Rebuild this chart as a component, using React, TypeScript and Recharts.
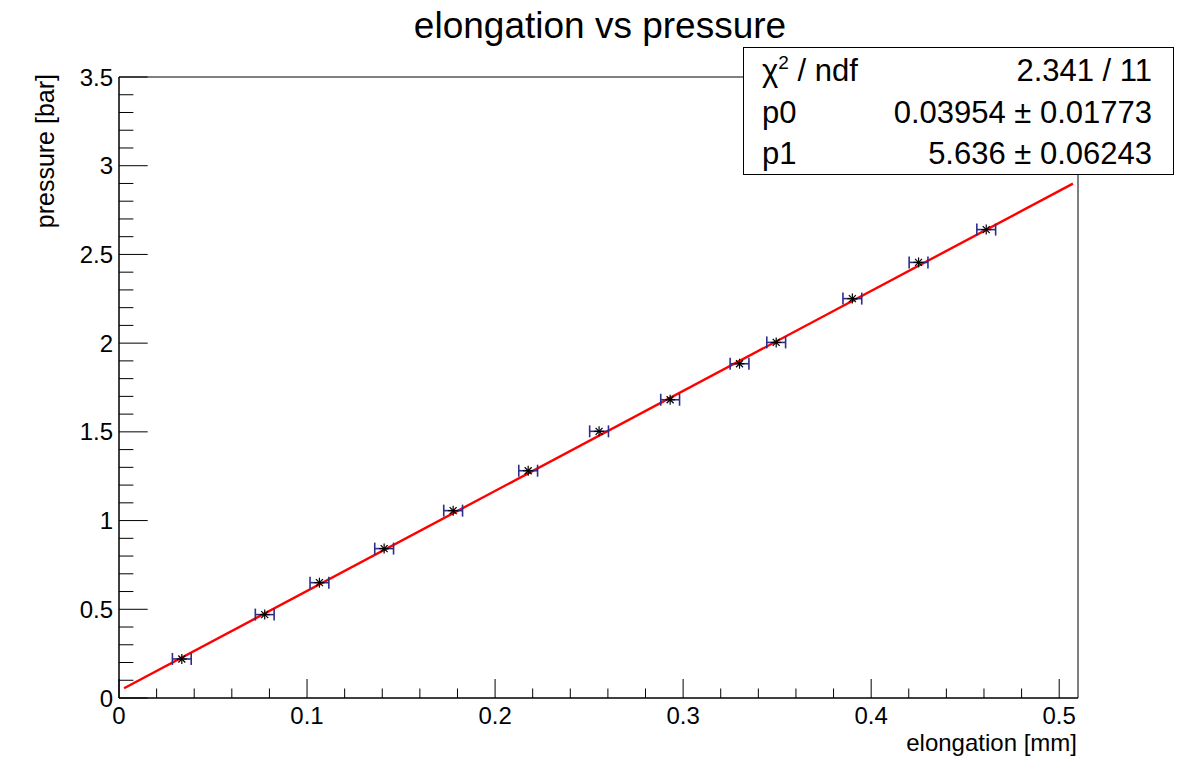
import { ComposedChart, Scatter, Line, XAxis, YAxis, ErrorBar, ReferenceArea } from 'recharts';

// measured points (elongation in mm, pressure in bar)
const elongation = [0.0334, 0.0775, 0.1066, 0.141, 0.1777, 0.2176, 0.2553, 0.2931, 0.33, 0.3495, 0.39, 0.4252, 0.4612];
const pressure = [0.22, 0.47, 0.65, 0.842, 1.056, 1.281, 1.503, 1.681, 1.884, 2.004, 2.251, 2.455, 2.64];
const elongationErr = [0.005, 0.005, 0.005, 0.005, 0.005, 0.005, 0.005, 0.005, 0.005, 0.005, 0.005, 0.005, 0.005];

// fitted line end points as drawn
const fitX = [0.0027, 0.5073];
const fitY = [0.055, 2.899];

const xTicks = [0, 0.02, 0.04, 0.06, 0.08, 0.1, 0.12, 0.14, 0.16, 0.18, 0.2, 0.22, 0.24, 0.26, 0.28, 0.3, 0.32, 0.34, 0.36, 0.38, 0.4, 0.42, 0.44, 0.46, 0.48, 0.5];
const xLabels = [0, 0.1, 0.2, 0.3, 0.4, 0.5];
const yTicks = [0, 0.1, 0.2, 0.3, 0.4, 0.5, 0.6, 0.7, 0.8, 0.9, 1, 1.1, 1.2, 1.3, 1.4, 1.5, 1.6, 1.7, 1.8, 1.9, 2, 2.1, 2.2, 2.3, 2.4, 2.5, 2.6, 2.7, 2.8, 2.9, 3, 3.1, 3.2, 3.3, 3.4, 3.5];
const yLabels = [0, 0.5, 1, 1.5, 2, 2.5, 3, 3.5];

const statNames = ['p0', 'p1'];
const statValues = ['0.03954 \u00b1 0.01773', '5.636 \u00b1 0.06243'];
const chiValue = '2.341 / 11';

const points = elongation.map((x, i) => ({ x, y: pressure[i], ex: elongationErr[i] }));
const fitData = fitX.map((x, i) => ({ x, y: fitY[i] }));

const FONT = '"Liberation Sans", Arial, Helvetica, sans-serif';

const isIn = (list: number[], v: number) => list.some(t => Math.abs(t - v) < 1e-9);

const XTick = (props: any) => {
  const { x, y, payload } = props;
  const major = isIn(xLabels, payload.value);
  return (
    <g>
      <line x1={x} x2={x} y1={y} y2={y - (major ? 19 : 9.5)} stroke="#000" strokeWidth={1} />
      {major && (
        <text x={x} y={y + 26} textAnchor="middle" fontSize={24} fill="#000">
          {String(payload.value)}
        </text>
      )}
    </g>
  );
};

const YTick = (props: any) => {
  const { x, y, payload } = props;
  const major = isIn(yLabels, payload.value);
  return (
    <g>
      <line x1={x} x2={x + (major ? 28.7 : 14.4)} y1={y} y2={y} stroke="#000" strokeWidth={1} />
      {major && (
        <text x={x - 6} y={y + 8.5} textAnchor="end" fontSize={24} fill="#000">
          {String(payload.value)}
        </text>
      )}
    </g>
  );
};

const Star = (props: any) => {
  const { cx, cy } = props;
  const r = 5;
  const d = 3.5;
  return (
    <g stroke="#000" strokeWidth={1.2}>
      <line x1={cx - r} x2={cx + r} y1={cy} y2={cy} />
      <line x1={cx} x2={cx} y1={cy - r} y2={cy + r} />
      <line x1={cx - d} x2={cx + d} y1={cy - d} y2={cy + d} />
      <line x1={cx - d} x2={cx + d} y1={cy + d} y2={cy - d} />
    </g>
  );
};

export default function App() {
  return (
    <div style={{ position: 'absolute', left: 0, top: 0, width: 1198, height: 776, background: '#fff', fontFamily: FONT }}>
      <ComposedChart width={1198} height={776} margin={{ top: 77, right: 120, bottom: 0, left: 0 }}>
        <XAxis
          type="number"
          dataKey="x"
          domain={[0, 0.51]}
          ticks={xTicks}
          interval={0}
          tickSize={0}
          tickMargin={0}
          tickLine={false}
          axisLine={{ stroke: '#000' }}
          tick={<XTick />}
          height={78}
          allowDataOverflow
        />
        <YAxis
          type="number"
          domain={[0, 3.5]}
          ticks={yTicks}
          interval={0}
          tickSize={0}
          tickMargin={0}
          tickLine={false}
          axisLine={{ stroke: '#000' }}
          tick={<YTick />}
          width={119}
          allowDataOverflow
        />
        <ReferenceArea x1={0} x2={0.51} y1={0} y2={3.5} fill="none" stroke="#000" strokeWidth={1} ifOverflow="visible" />
        <Line
          data={fitData}
          dataKey="y"
          type="linear"
          stroke="#ff0000"
          strokeWidth={2.4}
          dot={false}
          activeDot={false}
          isAnimationActive={false}
        />
        <Scatter data={points} dataKey="y" shape={<Star />} isAnimationActive={false}>
          <ErrorBar dataKey="ex" direction="x" width={6} stroke="#2e2e8a" strokeWidth={1.6} isAnimationActive={false} />
        </Scatter>
      </ComposedChart>
      <svg
        width={1198}
        height={776}
        style={{ position: 'absolute', left: 0, top: 0, pointerEvents: 'none' }}
        fontFamily={FONT}
      >
        <text x={600} y={38} textAnchor="middle" fontSize={37} fill="#000">elongation vs pressure</text>
        <text x={1077} y={751} textAnchor="end" fontSize={24} fill="#000">elongation [mm]</text>
        <text transform="translate(54,74) rotate(-90)" textAnchor="end" fontSize={25} fill="#000">pressure [bar]</text>
        <rect x={743.5} y={47.5} width={430} height={127} fill="#fff" stroke="#000" strokeWidth={1} />
        <text x={762} y={81} fontSize={31} fill="#000">
          χ<tspan fontSize={19} dy={-12}>2</tspan>
          <tspan dy={12}> / ndf</tspan>
        </text>
        <text x={1152} y={81} textAnchor="end" fontSize={31} fill="#000">{chiValue}</text>
        {statNames.map((n, i) => (
          <g key={n}>
            <text x={762} y={123 + i * 41} fontSize={31} fill="#000">{n}</text>
            <text x={1152} y={123 + i * 41} textAnchor="end" fontSize={31} fill="#000">{statValues[i]}</text>
          </g>
        ))}
      </svg>
    </div>
  );
}
